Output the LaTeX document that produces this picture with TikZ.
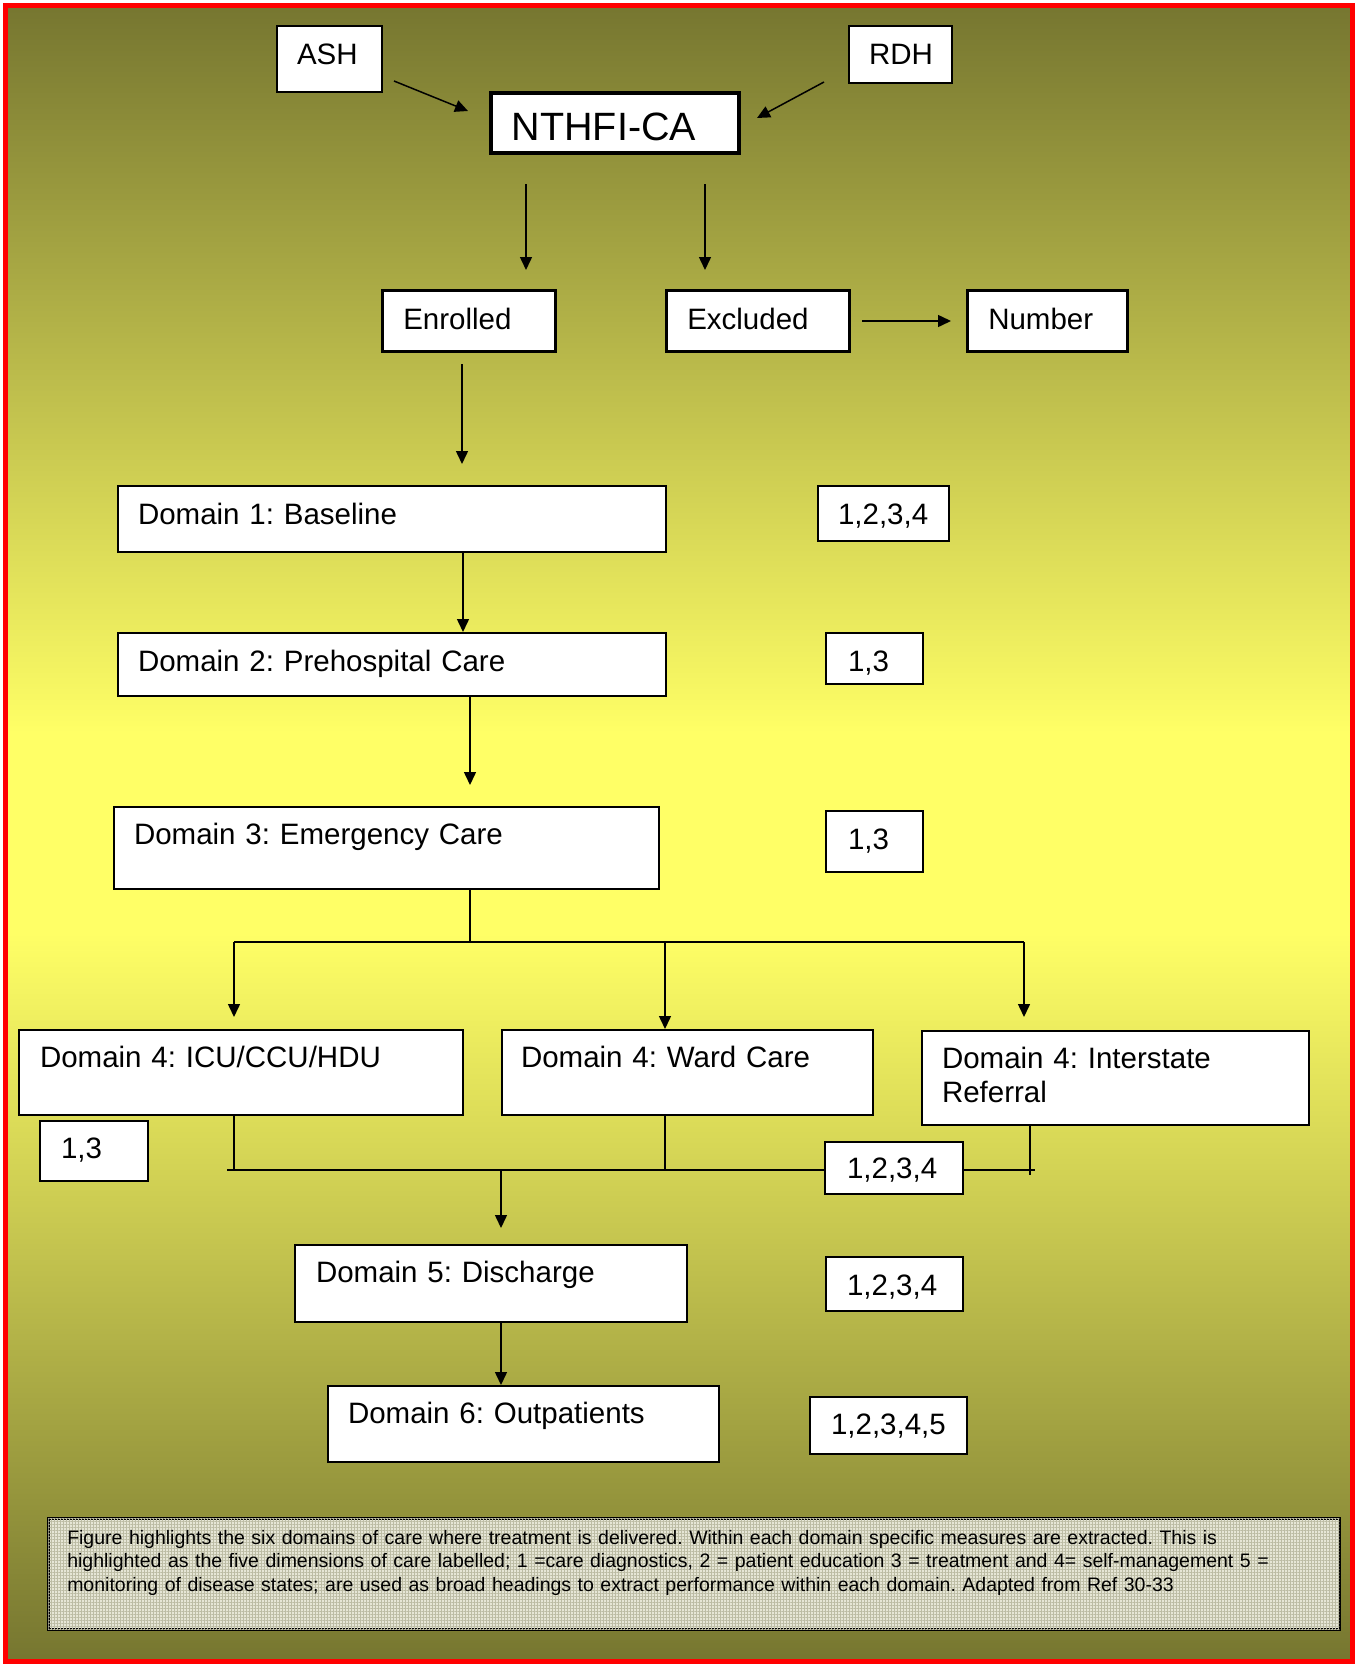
\documentclass[tikz,border=0pt]{standalone}
\usepackage{fontspec}
\setmainfont{Liberation Sans}
\usetikzlibrary{arrows.meta,patterns.meta}
\definecolor{olivebg}{HTML}{767630}
\definecolor{yellowbg}{HTML}{FFFF66}
\definecolor{capfill}{HTML}{E6E6D6}
\definecolor{capgrid}{HTML}{BCBCA4}
\pgfdeclareverticalshading{bgshade}{100bp}{color(0bp)=(olivebg); color(25bp)=(olivebg); color(47bp)=(yellowbg); color(53bp)=(yellowbg); color(75bp)=(olivebg); color(100bp)=(olivebg)}
\newcommand\fsz{\fontsize{29.5}{34}\selectfont}
\begin{document}
\frenchspacing
\begin{tikzpicture}[x=1pt,y=-1pt,
  bx/.style={draw, fill=white, line width=2pt, anchor=north west, inner xsep=20pt, inner ysep=0pt, align=left, text height=37.5pt, font=\fsz},
  arr/.style={-{Triangle[length=13pt,width=12pt]}, line width=1.5pt},
  ln/.style={line width=1.5pt}]
\useasboundingbox (0,0) rectangle (1356,1665);
\fill[white] (0,0) rectangle (1356,1665);
\shade[shading=bgshade] (5,5) rectangle (1352,1661);
\draw[red, line width=5pt] (5,5) rectangle (1352,1661);

% top row
\node[bx, text width=65pt, text height=38pt, text depth=28pt] (ash) at (276,25) {ASH};
\node[bx, text width=63pt, text height=38pt, text depth=19pt] (rdh) at (848,25) {RDH};
\node[bx, line width=3.5pt, inner xsep=21pt, text width=206pt, text height=48pt, text depth=12pt, font=\fontsize{39.5}{44}\selectfont] (nth) at (489,91) {NTHFI-CA};

\node[bx, line width=2.5pt, inner xsep=21pt, text width=131pt, text height=39pt, text depth=22pt] (enr) at (381,289) {Enrolled};
\node[bx, line width=2.5pt, inner xsep=21pt, text width=141pt, text height=39pt, text depth=22pt] (exc) at (665,289) {Excluded};
\node[bx, line width=2.5pt, inner xsep=21pt, text width=118pt, text height=39pt, text depth=22pt] (num) at (966,289) {Number};

% domains
\node[bx, text width=508pt, text height=38pt, text depth=28pt] (d1) at (117,485) {Domain 1: Baseline};
\node[bx, text width=91pt, text height=38pt, text depth=17pt] (n1) at (817,485) {1,2,3,4};
\node[bx, text width=508pt, text height=38pt, text depth=25pt] (d2) at (117,632) {Domain 2: Prehospital Care};
\node[bx, inner xsep=22pt, text width=53pt, text height=38pt, text depth=13pt] (n2) at (825,632) {1,3};
\node[bx, text width=505pt, text height=37pt, text depth=45pt] (d3) at (113,806) {Domain 3: Emergency Care};
\node[bx, inner xsep=22pt, text width=53pt, text height=38pt, text depth=23pt] (n3) at (825,810) {1,3};

\node[bx, inner xsep=21pt, text width=402pt, text height=37pt, text depth=48pt] (icu) at (18,1029) {Domain 4: ICU/CCU/HDU};
\node[bx, inner xsep=19pt, text width=333pt, text height=37pt, text depth=48pt] (ward) at (501,1029) {Domain 4: Ward Care};
\node[bx, text width=347pt, text height=37pt, text depth=57pt] (inter) at (921,1030) {Domain 4: Interstate\\Referral};
\node[bx, inner xsep=21pt, text width=66pt, text height=37pt, text depth=23pt] (n4a) at (39,1120) {1,3};
\node[bx, inner xsep=22pt, text width=94pt, text height=36pt, text depth=16pt] (n4b) at (824,1141) {1,2,3,4};

\node[bx, inner xsep=21pt, text width=350pt, text height=37pt, text depth=40pt] (d5) at (294,1244) {Domain 5: Discharge};
\node[bx, inner xsep=21pt, text width=95pt, text height=38pt, text depth=16pt] (n5) at (825,1256) {1,2,3,4};
\node[bx, text width=351pt, text height=37pt, text depth=39pt] (d6) at (327,1385) {Domain 6: Outpatients};
\node[bx, inner xsep=21pt, text width=115pt, text height=37pt, text depth=20pt] (n6) at (809,1396) {1,2,3,4,5};

% caption
\node[bx, fill=capfill, line width=2.5pt, inner xsep=19pt, text width=1253pt, text height=26pt, text depth=85pt,
  font=\fontsize{19.5}{23.4}\selectfont,
  postaction={pattern={Lines[angle=0,distance=3pt,line width=0.5pt]}, pattern color=capgrid},
  postaction={pattern={Lines[angle=90,distance=3pt,line width=0.5pt]}, pattern color=capgrid}] (cap) at (47,1517)
  {Figure highlights the six domains of care where treatment is delivered. Within each domain specific measures are extracted. This is\\
   highlighted as the five dimensions of care labelled; 1 =care diagnostics, 2 = patient education 3 = treatment and 4= self-management 5 =\\
   monitoring of disease states; are used as broad headings to extract performance within each domain. Adapted from Ref 30-33};

% connector coordinates
\coordinate (a1s) at (394,81);  \coordinate (a1e) at (468,111);
\coordinate (a2s) at (824,82);  \coordinate (a2e) at (757,118);
\coordinate (a3s) at (526,184); \coordinate (a3e) at (526,270);
\coordinate (a4s) at (705,184); \coordinate (a4e) at (705,270);
\coordinate (a5s) at (862,321); \coordinate (a5e) at (951,321);
\coordinate (a6s) at (462,364); \coordinate (a6e) at (462,464);
\coordinate (c12) at (463,0);
\coordinate (c23) at (470,785);
\coordinate (j0) at (470,942);
\coordinate (jl) at (234,942);
\coordinate (jm) at (665,942);
\coordinate (jr) at (1024,942);
\coordinate (icuin) at (234,1017);
\coordinate (interin) at (1024,1017);
\coordinate (bl) at (227,1170);
\coordinate (br) at (1035,1170);
\coordinate (bicu) at (234,1170);
\coordinate (bward) at (665,1170);
\coordinate (binter) at (1030,1175);
\coordinate (bmid) at (501,1170);
\coordinate (d5in) at (501,1228);

\draw[arr] (a1s) -- (a1e);
\draw[arr] (a2s) -- (a2e);
\draw[arr] (a3s) -- (a3e);
\draw[arr] (a4s) -- (a4e);
\draw[arr] (a5s) -- (a5e);
\draw[arr] (a6s) -- (a6e);
\draw[arr] (d1.south -| c12) -- (d2.north -| c12);
\draw[arr] (d2.south -| c23) -- (c23);
\draw[ln] (d3.south -| j0) -- (j0);
\draw[ln] (jl) -- (jr);
\draw[arr] (jl) -- (icuin);
\draw[arr] (jm) -- (ward.north -| jm);
\draw[arr] (jr) -- (interin);
\draw[ln] (icu.south -| bicu) -- (bicu);
\draw[ln] (ward.south -| bward) -- (bward);
\draw[ln] (inter.south -| binter) -- (binter);
\draw[ln] (bl) -- (n4b.west |- bl);
\draw[ln] (n4b.east |- br) -- (br);
\draw[arr] (bmid) -- (d5in);
\draw[arr] (d5.south -| bmid) -- (d6.north -| bmid);
\end{tikzpicture}
\end{document}
